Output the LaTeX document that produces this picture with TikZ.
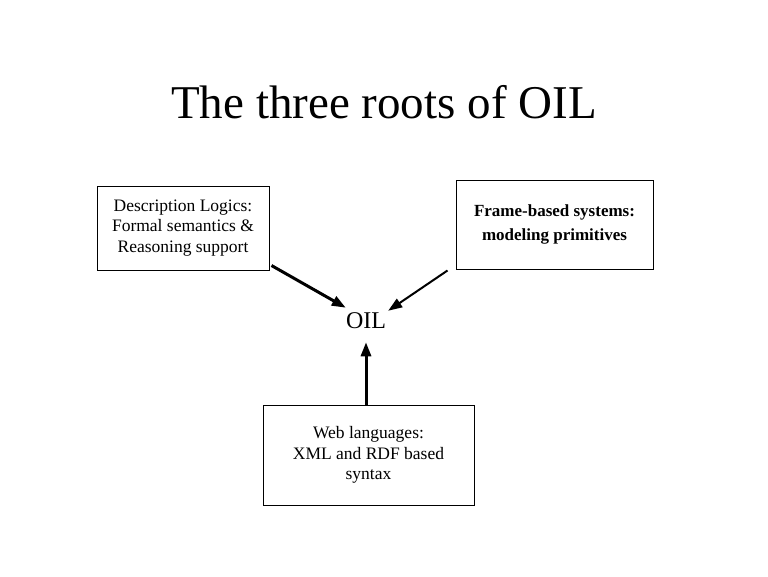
\documentclass[tikz,border=0pt]{standalone}
\usepackage{fontspec}
\setmainfont{Liberation Serif}
\usetikzlibrary{arrows.meta}
\tikzset{
	rootbox/.style={draw, line width=1pt, inner sep=0pt, align=center, font=\fontsize{17.5}{20.5}\selectfont},
	arr/.style={-{Triangle[length=14pt,width=10pt]}, line width=3pt}
}

\begin{document}
\begin{tikzpicture}[x=1pt, y=-1pt]
			%%%%% START %%%%%
			
			\useasboundingbox (0, 0) rectangle (768, 576);
			
			\node[font=\fontsize{47}{50}\selectfont] (title) at (384, 102) {The three roots of OIL};
			
			\node[font=\fontsize{24}{26}\selectfont, inner sep=2pt] (oil) at (366, 321) {OIL};
			
			\node[rootbox, minimum width=172pt, minimum height=84pt] (dl) at (183, 228) {Description Logics:\\Formal semantics \&\\Reasoning support};
			\node[rootbox, minimum width=197pt, minimum height=89pt, font=\fontsize{17}{24}\selectfont\bfseries] (fb) at (554.5, 224.5) {Frame-based systems:\\modeling primitives};
			\node[rootbox, minimum width=211pt, minimum height=100pt] (web) at (368.5, 455) {Web languages:\\XML and RDF based\\syntax};
			
			\draw[arr] ([xshift=2pt, yshift=5pt]dl.south east) -- ([xshift=2pt, yshift=3pt]oil.north west);
			\draw[arr, line width=2pt] ([xshift=-8pt, yshift=-1pt]fb.south west) -- (oil.north east);
			\draw[arr] (web.north -| oil) -- ([yshift=-11pt]oil.south);
			
			%%%%% END %%%%%
		\end{tikzpicture}
\end{document}
